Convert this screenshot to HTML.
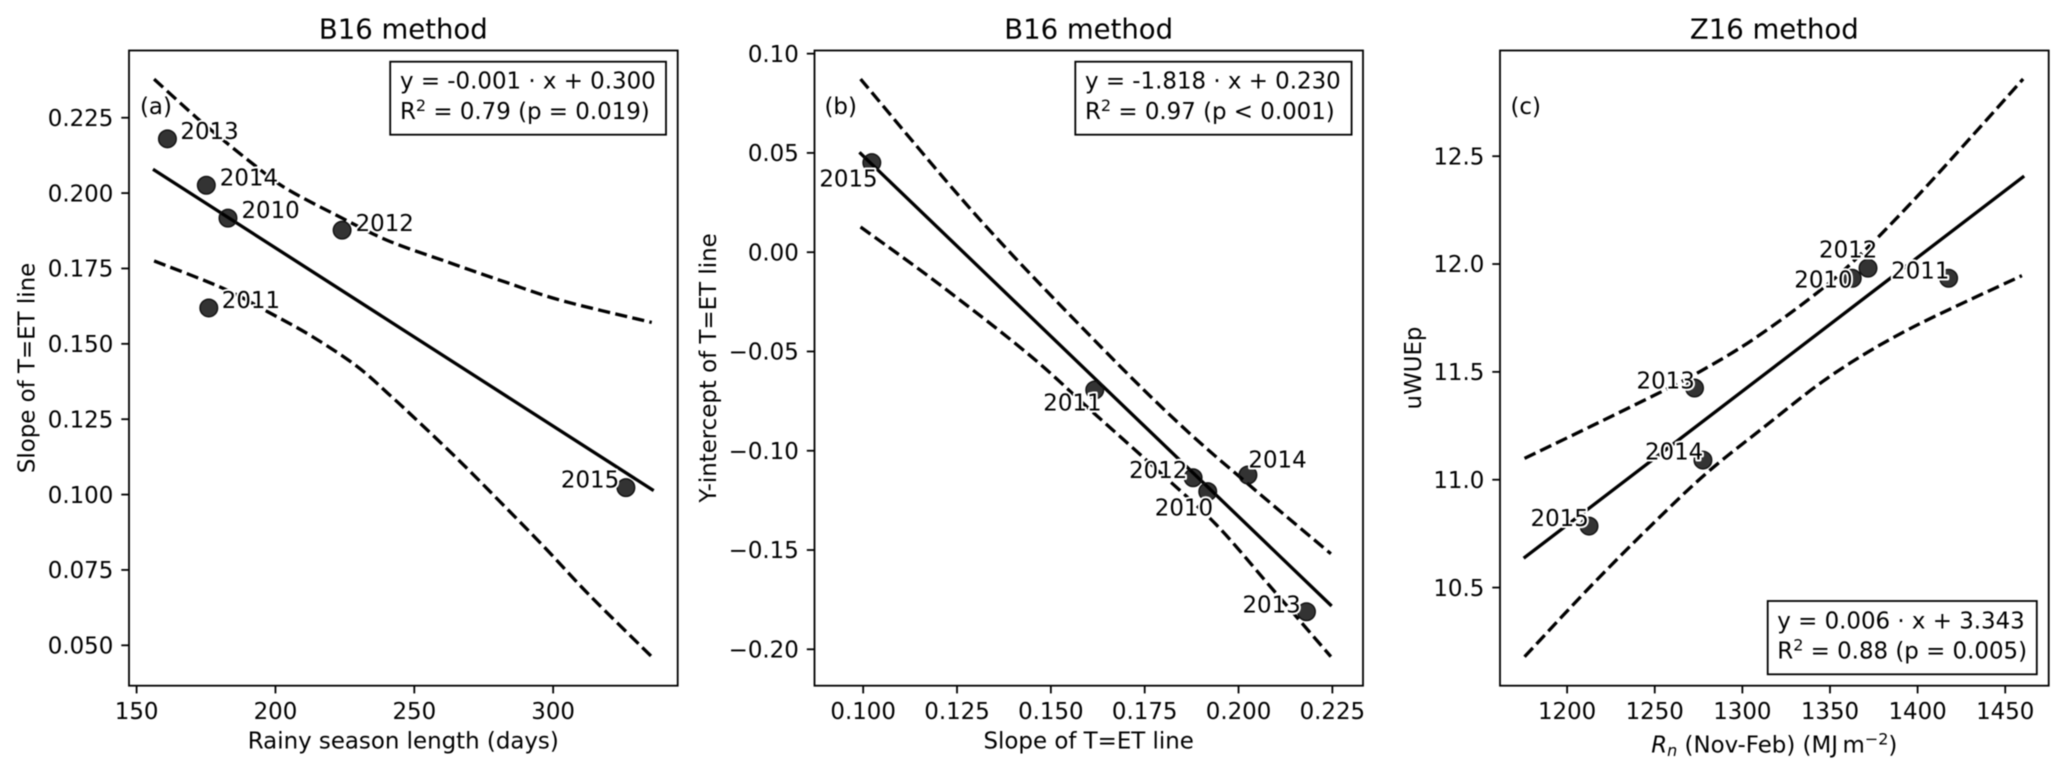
<!DOCTYPE html>
<html lang="en">
<head>
<meta charset="utf-8">
<title>Regression panels of T=ET line parameters</title>
<style>
html,body{margin:0;padding:0;background:#fff;}
svg{display:block;filter:blur(0.4px);}
text{font-family:"DejaVu Sans","Liberation Sans",sans-serif;font-size:22.9px;fill:#000;}
.title{font-size:27.5px;text-anchor:middle;}
.axis-label{text-anchor:middle;}
.halo{paint-order:stroke;stroke:#fff;stroke-width:4px;stroke-linejoin:round;}
</style>
</head>
<body>
<svg id="figure" width="2067" height="775" viewBox="0 0 2067 775" xmlns="http://www.w3.org/2000/svg">
  <rect x="0" y="0" width="2067" height="775" fill="#fff"/>

  <g id="panel-a"></g>
  <g id="panel-b"></g>
  <g id="panel-c"></g>

  <text class="title" x="403.3" y="38.3">B16 method</text>
  <text class="title" x="1088.7" y="38.3">B16 method</text>
  <text class="title" x="1774.3" y="38.3">Z16 method</text>

  <text class="axis-label" x="403.3" y="748.3">Rainy season length (days)</text>
  <text class="axis-label" x="1088.7" y="748.3">Slope of T=ET line</text>
  <text class="axis-label" x="1774.3" y="752.7"><tspan font-style="italic">R</tspan><tspan font-style="italic" font-size="16" dy="3.5">n</tspan><tspan dy="-3.5"> (Nov-Feb) (MJ&#8201;m</tspan><tspan font-size="16" dy="-8">&#8722;2</tspan><tspan dy="8">)</tspan></text>

  <text class="axis-label" transform="translate(34.5 368) rotate(-90)">Slope of T=ET line</text>
  <text class="axis-label" transform="translate(716 368) rotate(-90)">Y-intercept of T=ET line</text>
  <text class="axis-label" transform="translate(1421 368) rotate(-90)">uWUEp</text>

  <text x="140" y="113.8">(a)</text>
  <text x="824.5" y="113.8">(b)</text>
  <text x="1510.5" y="113.8">(c)</text>

  <g>
    <rect x="390.2" y="61.7" width="275.8" height="73" fill="#fff" stroke="#000" stroke-width="1.8"/>
    <text x="400" y="88.3">y = -0.001 · x + 0.300</text>
    <text x="400" y="119">R<tspan font-size="16" dy="-8">2</tspan><tspan dy="8"> = 0.79 (p = 0.019)</tspan></text>
  </g>
  <g>
    <rect x="1075.3" y="61.7" width="276.3" height="73" fill="#fff" stroke="#000" stroke-width="1.8"/>
    <text x="1085" y="88.3">y = -1.818 · x + 0.230</text>
    <text x="1085" y="119">R<tspan font-size="16" dy="-8">2</tspan><tspan dy="8"> = 0.97 (p &lt; 0.001)</tspan></text>
  </g>
  <g>
    <rect x="1767.7" y="601" width="269.1" height="73.3" fill="#fff" stroke="#000" stroke-width="1.8"/>
    <text x="1777.3" y="628.3">y = 0.006 · x + 3.343</text>
    <text x="1777.3" y="658.3">R<tspan font-size="16" dy="-8">2</tspan><tspan dy="8"> = 0.88 (p = 0.005)</tspan></text>
  </g>
</svg>

<script>
/* Shared categories */
const years = ["2010", "2011", "2012", "2013", "2014", "2015"];

/* Panel A data */
const aPointX = [182.9, 176.0, 224.0, 161.1, 175.1, 326.2];
const aPointY = [0.1917, 0.1619, 0.1877, 0.2180, 0.2026, 0.1023];
const aFitX = [155.9, 336.2];
const aFitY = [0.2079, 0.1013];
const aUpperX = [156.3, 171.5, 181.2, 192.4, 203.7, 223.8, 240.6, 261.5, 282.4, 303.3, 335.5];
const aUpperY = [0.2378, 0.2251, 0.2176, 0.2093, 0.2016, 0.1918, 0.1842, 0.1773, 0.1706, 0.1643, 0.1571];
const aLowerX = [156.3, 181.2, 197.3, 213.3, 229.4, 241.4, 248.7, 264.8, 280.8, 296.9, 313.0, 335.5];
const aLowerY = [0.1775, 0.1684, 0.1606, 0.1524, 0.1425, 0.1328, 0.1266, 0.1125, 0.0977, 0.0825, 0.0667, 0.0462];
const aXTicks = [150, 200, 250, 300];
const aXTickLabels = ["150", "200", "250", "300"];
const aYTicks = [0.05, 0.075, 0.1, 0.125, 0.15, 0.175, 0.2, 0.225];
const aYTickLabels = ["0.050", "0.075", "0.100", "0.125", "0.150", "0.175", "0.200", "0.225"];

/* Panel B data */
const bPointX = [0.1918, 0.1617, 0.1879, 0.2181, 0.2025, 0.1023];
const bPointY = [-0.1206, -0.0694, -0.1136, -0.1811, -0.1122, 0.0451];
const bFitX = [0.0990, 0.2248];
const bFitY = [0.0503, -0.1782];
const bUpperX = [0.0993, 0.1312, 0.1633, 0.1847, 0.2025, 0.2246];
const bUpperY = [0.0872, 0.0162, -0.0476, -0.0873, -0.1167, -0.1519];
const bLowerX = [0.0993, 0.1205, 0.1443, 0.1615, 0.1800, 0.1942, 0.2085, 0.2246];
const bLowerY = [0.0127, -0.0165, -0.0518, -0.0811, -0.1125, -0.1375, -0.1685, -0.2037];
const bXTicks = [0.1, 0.125, 0.15, 0.175, 0.2, 0.225];
const bXTickLabels = ["0.100", "0.125", "0.150", "0.175", "0.200", "0.225"];
const bYTicks = [-0.2, -0.15, -0.1, -0.05, 0, 0.05, 0.1];
const bYTickLabels = ["\u22120.20", "\u22120.15", "\u22120.10", "\u22120.05", "0.00", "0.05", "0.10"];

/* Panel C data */
const cPointX = [1362.7, 1417.7, 1371.7, 1272.7, 1277.5, 1212.5];
const cPointY = [11.934, 11.934, 11.981, 11.425, 11.091, 10.785];
const cFitX = [1175.2, 1460.8];
const cFitY = [10.636, 12.408];
const cUpperX = [1175.7, 1213.2, 1255.8, 1275.7, 1305.7, 1343.2, 1368.2, 1398.2, 1430.7, 1460.2];
const cUpperY = [11.099, 11.246, 11.416, 11.501, 11.648, 11.870, 12.050, 12.300, 12.590, 12.858];
const cLowerX = [1175.7, 1213.2, 1248.2, 1279.5, 1313.3, 1343.2, 1368.2, 1393.2, 1418.2, 1459.5];
const cLowerY = [10.179, 10.504, 10.790, 11.030, 11.250, 11.440, 11.575, 11.690, 11.790, 11.946];
const cXTicks = [1200, 1250, 1300, 1350, 1400, 1450];
const cXTickLabels = ["1200", "1250", "1300", "1350", "1400", "1450"];
const cYTicks = [10.5, 11, 11.5, 12, 12.5];
const cYTickLabels = ["10.5", "11.0", "11.5", "12.0", "12.5"];

const SVG_NS = "http://www.w3.org/2000/svg";
const TOP = 50.5, BOTTOM = 685.7;

function make(parent, tag, name, attrs) {
  const el = document.createElementNS(SVG_NS, tag);
  
  
  for (const key in attrs) el.setAttribute(key, attrs[key]);
  parent.appendChild(el);
  return el;
}

function linear(d0, d1, r0, r1) {
  return function (v) { return r0 + (v - d0) / (d1 - d0) * (r1 - r0); };
}

/* Smooth curve through the scaled data points (Catmull-Rom to Bezier). */
function curvePath(xs, ys, sx, sy) {
  const pts = xs.map(function (x, i) { return [sx(x), sy(ys[i])]; });
  let d = "M" + pts[0][0].toFixed(2) + " " + pts[0][1].toFixed(2);
  for (let i = 0; i < pts.length - 1; i++) {
    const p0 = pts[Math.max(i - 1, 0)];
    const p1 = pts[i];
    const p2 = pts[i + 1];
    const p3 = pts[Math.min(i + 2, pts.length - 1)];
    const c1x = p1[0] + (p2[0] - p0[0]) / 6;
    const c1y = p1[1] + (p2[1] - p0[1]) / 6;
    const c2x = p2[0] - (p3[0] - p1[0]) / 6;
    const c2y = p2[1] - (p3[1] - p1[1]) / 6;
    d += "C" + c1x.toFixed(2) + " " + c1y.toFixed(2) + " " + c2x.toFixed(2) + " " + c2y.toFixed(2) + " " + p2[0].toFixed(2) + " " + p2[1].toFixed(2);
  }
  return d;
}

function drawPanel(p) {
  const g = document.getElementById(p.id);
  const sx = linear(p.xLim[0], p.xLim[1], p.left, p.right);
  const sy = linear(p.yLim[0], p.yLim[1], BOTTOM, TOP);

  make(g, "path", p.id + "-upper-confidence-band", {d: curvePath(p.upperX, p.upperY, sx, sy), fill: "none", stroke: "#000", "stroke-width": 3.3, "stroke-dasharray": "12.2 5.3"});
  make(g, "path", p.id + "-lower-confidence-band", {d: curvePath(p.lowerX, p.lowerY, sx, sy), fill: "none", stroke: "#000", "stroke-width": 3.3, "stroke-dasharray": "12.2 5.3"});
  make(g, "path", p.id + "-regression-line", {d: curvePath(p.fitX, p.fitY, sx, sy), fill: "none", stroke: "#000", "stroke-width": 3.3});

  p.pointX.forEach(function (x, i) {
    make(g, "circle", p.id + "-point-" + years[i], {cx: sx(x).toFixed(2), cy: sy(p.pointY[i]).toFixed(2), r: 8.8, fill: "#000", "fill-opacity": 0.8, stroke: "#111", "stroke-width": 1.4});
  });
  p.pointX.forEach(function (x, i) {
    const off = p.labelOffset[years[i]];
    const t = make(g, "text", p.id + "-label-" + years[i], {x: (sx(x) + off[0]).toFixed(2), y: (sy(p.pointY[i]) + off[1]).toFixed(2), "class": "halo"});
    t.textContent = years[i];
  });

  make(g, "rect", p.id + "-axes-frame", {x: p.left, y: TOP, width: p.right - p.left, height: BOTTOM - TOP, fill: "none", stroke: "#000", "stroke-width": 1.8});

  p.xTicks.forEach(function (v, i) {
    const x = sx(v);
    make(g, "line", p.id + "-x-tick-" + p.xTickLabels[i], {x1: x, x2: x, y1: BOTTOM, y2: BOTTOM + 7.7, stroke: "#000", "stroke-width": 1.8});
    const t = make(g, "text", p.id + "-x-tick-label-" + p.xTickLabels[i], {x: x, y: 719, "text-anchor": "middle"});
    t.textContent = p.xTickLabels[i];
  });
  p.yTicks.forEach(function (v, i) {
    const y = sy(v);
    make(g, "line", p.id + "-y-tick-" + p.yTickLabels[i], {x1: p.left - 7.7, x2: p.left, y1: y, y2: y, stroke: "#000", "stroke-width": 1.8});
    const t = make(g, "text", p.id + "-y-tick-label-" + p.yTickLabels[i], {x: p.left - 15.7, y: y + 8.2, "text-anchor": "end"});
    t.textContent = p.yTickLabels[i];
  });
}

drawPanel({
  id: "panel-a", left: 129, right: 677.7, xLim: [147.26, 344.85], yLim: [0.0366, 0.2473],
  pointX: aPointX, pointY: aPointY, fitX: aFitX, fitY: aFitY,
  upperX: aUpperX, upperY: aUpperY, lowerX: aLowerX, lowerY: aLowerY,
  xTicks: aXTicks, xTickLabels: aXTickLabels, yTicks: aYTicks, yTickLabels: aYTickLabels,
  labelOffset: {"2010": [13.5, 0], "2011": [13, 0], "2012": [13.5, 1], "2013": [13, 0], "2014": [13.5, 0], "2015": [-65, 0]}
});
drawPanel({
  id: "panel-b", left: 814.5, right: 1363, xLim: [0.08703, 0.23316], yLim: [-0.21834, 0.10159],
  pointX: bPointX, pointY: bPointY, fitX: bFitX, fitY: bFitY,
  upperX: bUpperX, upperY: bUpperY, lowerX: bLowerX, lowerY: bLowerY,
  xTicks: bXTicks, xTickLabels: bXTickLabels, yTicks: bYTicks, yTickLabels: bYTickLabels,
  labelOffset: {"2010": [-53, 24], "2011": [-51.5, 20.7], "2012": [-64, 0], "2013": [-64, 0.5], "2014": [0.5, -7.7], "2015": [-52.5, 24]}
});
drawPanel({
  id: "panel-c", left: 1500, right: 2048.7, xLim: [1161.7, 1474.8], yLim: [10.045, 12.990],
  pointX: cPointX, pointY: cPointY, fitX: cFitX, fitY: cFitY,
  upperX: cUpperX, upperY: cUpperY, lowerX: cLowerX, lowerY: cLowerY,
  xTicks: cXTicks, xTickLabels: cXTickLabels, yTicks: cYTicks, yTickLabels: cYTickLabels,
  labelOffset: {"2010": [-58, 9], "2011": [-57.5, 0.4], "2012": [-49, -10.7], "2013": [-58, 0.3], "2014": [-58, -0.7], "2015": [-58.5, 0]}
});
</script>
</body>
</html>
